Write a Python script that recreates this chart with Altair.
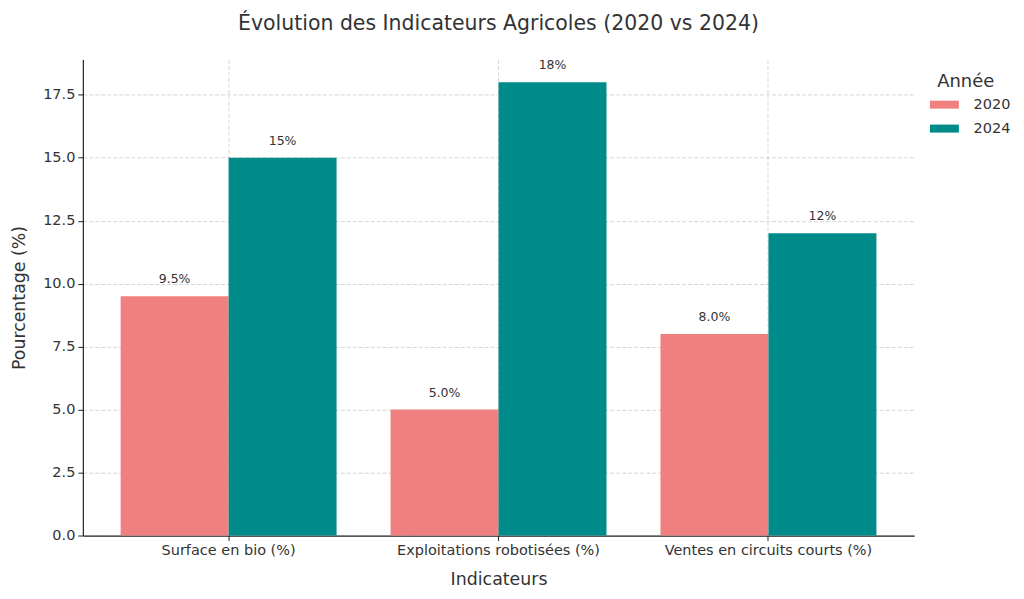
import altair as alt
import pandas as pd

categories = ["Surface en bio (%)", "Exploitations robotisées (%)", "Ventes en circuits courts (%)"]
years = ["2020", "2024"]
values_2020 = [9.5, 5.0, 8.0]
values_2024 = [15, 18, 12]
labels_2020 = ["9.5%", "5.0%", "8.0%"]
labels_2024 = ["15%", "18%", "12%"]
y_ticks = [0, 2.5, 5.0, 7.5, 10.0, 12.5, 15.0, 17.5]
colors = ["#F08080", "#008B8B"]

rows = []
for c, v, l in zip(categories, values_2020, labels_2020):
    rows.append({"Indicateur": c, "Année": "2020", "Valeur": v, "Label": l})
for c, v, l in zip(categories, values_2024, labels_2024):
    rows.append({"Indicateur": c, "Année": "2024", "Valeur": v, "Label": l})
df = pd.DataFrame(rows)

FONT = "DejaVu Sans"
TXT = "#333333"

x_enc = alt.X(
    "Indicateur:N",
    sort=categories,
    scale=alt.Scale(paddingInner=0.2, paddingOuter=0.14),
    axis=alt.Axis(
        title="Indicateurs",
        labelAngle=0,
        labelLimit=0,
        bandPosition=0.5,
        grid=True,
        labelPadding=3,
        titlePadding=14,
    ),
)
xo_enc = alt.XOffset("Année:N", sort=years, scale=alt.Scale(paddingInner=0, paddingOuter=0))
y_enc = alt.Y(
    "Valeur:Q",
    scale=alt.Scale(domain=[0, 18.9], nice=False, zero=True),
    axis=alt.Axis(
        title="Pourcentage (%)",
        values=y_ticks,
        format=".1f",
        grid=True,
        labelPadding=3,
        titlePadding=14,
    ),
)

bars = alt.Chart(df).mark_bar(cornerRadius=0).encode(
    x=x_enc,
    xOffset=xo_enc,
    y=y_enc,
    color=alt.Color(
        "Année:N",
        sort=years,
        scale=alt.Scale(domain=years, range=colors),
        legend=alt.Legend(
            title="Année",
            orient="none",
            legendX=856,
            legendY=14,
            padding=0,
            titleAnchor="start",
            titleFontSize=18,
            titleFontWeight="normal",
            titleFont=FONT,
            titleColor=TXT,
            titlePadding=6,
            labelFontSize=14.5,
            labelFont=FONT,
            labelColor=TXT,
            labelOffset=22,
            symbolType="M-2.9,-0.8H2.9V0.8H-2.9Z",
            symbolSize=100,
            symbolStrokeWidth=0,
            rowPadding=9,
        ),
    ),
)

text = alt.Chart(df).mark_text(
    baseline="alphabetic", dy=-13, fontSize=12.5, font=FONT, color=TXT
).encode(
    x=alt.X("Indicateur:N", sort=categories),
    xOffset=alt.XOffset("Année:N", sort=years),
    y="Valeur:Q",
    text="Label:N",
)

chart = (
    alt.layer(bars, text)
    .properties(
        width=833,
        height=477,
        padding={"left": 2, "top": 5, "right": 5, "bottom": 5},
        title=alt.TitleParams(
            "Évolution des Indicateurs Agricoles (2020 vs 2024)",
            fontSize=20.5,
            font=FONT,
            fontWeight="normal",
            color=TXT,
            offset=25,
        ),
    )
    .configure_view(stroke=None)
    .configure_axis(
        domainColor="#222222",
        domainWidth=1.2,
        tickColor="#222222",
        tickSize=5,
        tickWidth=1,
        labelFont=FONT,
        labelFontSize=14.5,
        labelColor=TXT,
        titleFont=FONT,
        titleFontSize=17.4,
        titleFontWeight="normal",
        titleColor=TXT,
        gridColor="#cccccc",
        gridDash=[4, 2],
        gridWidth=0.8,
    )
)

chart.save("out.html", embed_options={"renderer": "svg", "actions": False})
